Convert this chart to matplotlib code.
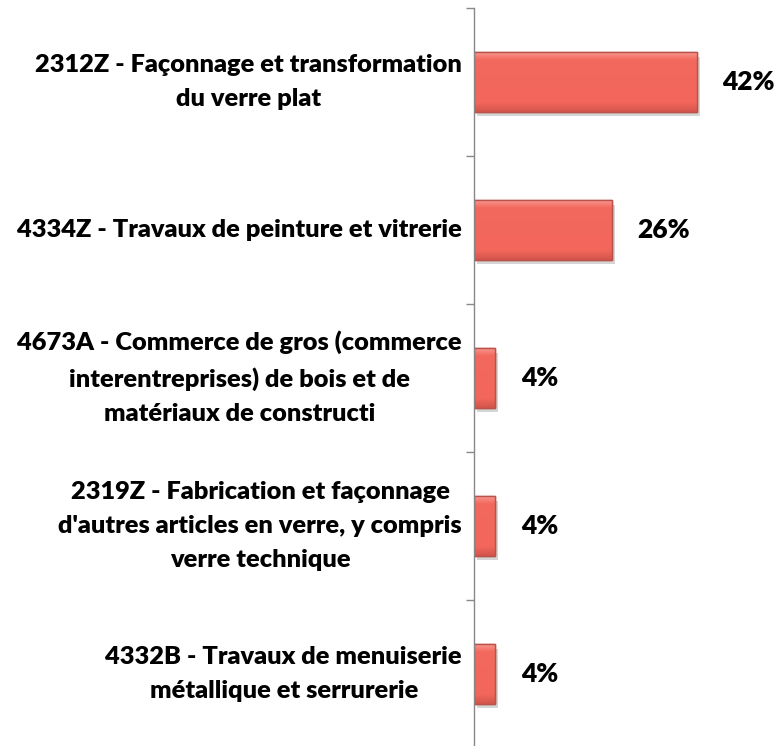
import matplotlib
matplotlib.use("Agg")
import matplotlib.pyplot as plt
import matplotlib.patheffects as pe
import numpy as np
from matplotlib.colors import LinearSegmentedColormap

categories = [
    "2312Z - Façonnage et transformation\ndu verre plat",
    "4334Z - Travaux de peinture et vitrerie",
    "4673A - Commerce de gros (commerce\ninterentreprises) de bois et de\nmatériaux de constructi",
    "2319Z - Fabrication et façonnage\nd'autres articles en verre, y compris\nverre technique",
    "4332B - Travaux de menuiserie\nmétallique et serrurerie",
]
values = [42, 26, 4, 4, 4]
value_labels = ["42%", "26%", "4%", "4%", "4%"]

plt.rcParams['font.family'] = ['Lato', 'DejaVu Sans']

fig = plt.figure(figsize=(7.78, 7.46), dpi=100)
ax = fig.add_axes([474/778, -2/746, 1 - 474/778, 740/746])

pos = list(range(len(categories)))
bars = ax.barh(pos, values, height=0.4, color='#F3685D', edgecolor='#B9524B', linewidth=1.0, zorder=3)
for b in bars:
    b.set_path_effects([pe.SimplePatchShadow(offset=(2, -3), shadow_rgbFace='#888888', alpha=0.35), pe.Normal()])

cmap = LinearSegmentedColormap.from_list('bev', [(0, '#F8968D'), (0.12, '#F3695E'), (0.85, '#F2665B'), (1.0, '#D3544C')])
grad = np.linspace(0, 1, 64).reshape(-1, 1)
for b in bars:
    x0, y0, w, h = b.get_x(), b.get_y(), b.get_width(), b.get_height()
    im = ax.imshow(grad, cmap=cmap, aspect='auto', extent=(x0, x0 + w, y0 + h, y0), zorder=3.5, interpolation='bilinear')
    im.set_clip_path(b)
    ax.add_patch(plt.Rectangle((x0, y0), w, h, fill=False, edgecolor='#B9524B', linewidth=1.0, zorder=3.6))

ax.set_xlim(0, 57.3)
ax.set_ylim(len(categories) - 0.5, -0.5)

for i, (v, lab) in enumerate(zip(values, value_labels)):
    ax.text(v + 4.8, i, lab, va='center', ha='left', fontsize=19, fontweight='heavy', color='black')

for i, cat in enumerate(categories):
    ax.annotate(cat, xy=(0, i), xycoords='data', xytext=(-8.6, 0), textcoords='offset points',
                ha='right', va='center', multialignment='center', fontsize=18.3, fontweight='heavy',
                linespacing=1.68, color='black', annotation_clip=False)

ax.set_yticks([i - 0.5 for i in range(len(categories) + 1)])
ax.set_yticklabels([])
ax.tick_params(axis='y', direction='out', length=6, color='#888888', width=1)
ax.set_xticks([])
for s in ['top', 'right', 'bottom']:
    ax.spines[s].set_visible(False)
ax.spines['left'].set_color('#888888')
ax.spines['left'].set_linewidth(1)
ax.spines['left'].set_zorder(5)

fig.savefig('out.png', dpi=100)
